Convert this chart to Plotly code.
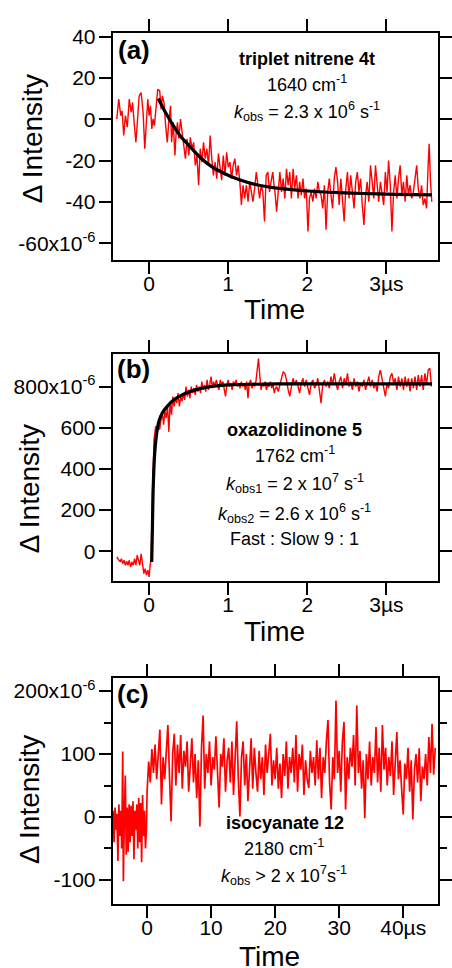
import plotly.graph_objects as go

# ---------------- data (intensities in units of 1e-6) ----------------
# Panel (a): triplet nitrene 4t, 1640 cm-1
time_a_early = [-0.409, -0.384, -0.359, -0.342, -0.321, -0.300, -0.276, -0.251, -0.226, -0.209,
                -0.188, -0.167, -0.146, -0.126, -0.101, -0.076, -0.055, -0.034, -0.017, 0.000,
                0.017, 0.034, 0.050, 0.067, 0.084, 0.109, 0.134, 0.151, 0.167, 0.188,
                0.209, 0.230, 0.251, 0.271, 0.284, 0.305, 0.326, 0.342, 0.359, 0.376,
                0.397, 0.417, 0.438, 0.459, 0.480, 0.501, 0.521, 0.542, 0.563, 0.584,
                0.605, 0.626, 0.646, 0.667, 0.688, 0.709, 0.730, 0.751, 0.772, 0.792,
                0.813, 0.834, 0.855, 0.876, 0.897, 0.917, 0.938, 0.959, 0.980, 1.001,
                1.022, 1.042, 1.063, 1.084, 1.105, 1.126, 1.147, 1.167, 1.188, 1.209,
                1.230, 1.251, 1.272, 1.292, 1.313, 1.334, 1.355, 1.376, 1.397, 1.417,
                1.438, 1.459, 1.480, 1.501, 1.522, 1.542, 1.563, 1.584]
signal_a_early = [0.2, 9.8, 1.8, 4.2, -7.8, 1.8, -3.8, 9.8, 3.4, 8.2,
                  -2.2, -11.1, 0.2, 11.4, 13.0, 3.4, -14.2, 1.8, 9.8, 1.8,
                  6.6, -4.6, 0.2, -3.0, 3.4, 14.6, 13.8, 5.0, 11.4, 8.2,
                  -3.0, -11.1, 0.2, 6.6, -11.1, -1.4, -17.5, -6.2, -1.4, -9.4,
                  0.2, -7.8, -12.6, -19.0, -9.4, -17.5, -8.7, -14.2, -11.1, -22.3,
                  -17.5, -31.9, -14.2, -20.7, -11.1, -19.0, -14.2, -22.3, -7.8, -19.0,
                  -27.1, -20.7, -28.7, -16.6, -22.3, -29.5, -17.5, -27.1, -15.9, -23.1,
                  -20.7, -28.7, -22.3, -19.0, -27.1, -22.3, -30.3, -41.5, -31.9, -38.3,
                  -31.9, -39.9, -30.3, -35.1, -39.9, -33.5, -25.5, -31.9, -38.3, -31.9,
                  -35.1, -49.5, -27.1, -25.5, -35.1, -30.3, -25.5, -33.5]
time_a_late = [1.591, 1.612, 1.633, 1.653, 1.674, 1.695, 1.716, 1.737, 1.758, 1.778,
               1.799, 1.820, 1.841, 1.862, 1.883, 1.903, 1.924, 1.945, 1.966, 1.987,
               2.008, 2.028, 2.049, 2.070, 2.091, 2.112, 2.133, 2.153, 2.174, 2.195,
               2.216, 2.237, 2.258, 2.278, 2.299, 2.320, 2.341, 2.362, 2.383, 2.403,
               2.424, 2.445, 2.466, 2.487, 2.508, 2.528, 2.549, 2.570, 2.591, 2.612,
               2.633, 2.653, 2.674, 2.695, 2.716, 2.737, 2.758, 2.778, 2.799, 2.820,
               2.841, 2.862, 2.883, 2.903, 2.924, 2.945, 2.966, 2.987, 3.008, 3.028,
               3.049, 3.070, 3.091, 3.112, 3.133, 3.153, 3.174, 3.195, 3.216, 3.237,
               3.258, 3.278, 3.299, 3.320, 3.341, 3.362, 3.383, 3.403, 3.424, 3.445,
               3.466, 3.487, 3.508, 3.528, 3.541, 3.558, 3.574]
signal_a_late = [-35.1, -44.7, -31.9, -25.5, -35.1, -28.7, -38.3, -23.9, -31.9, -25.5,
                 -38.3, -23.9, -33.5, -27.1, -38.3, -30.3, -36.7, -28.7, -38.3, -33.5,
                 -54.3, -38.3, -35.1, -39.9, -33.5, -38.3, -30.3, -35.1, -36.7, -43.1,
                 -31.9, -53.5, -35.1, -28.7, -36.7, -43.1, -28.7, -23.1, -30.3, -41.5,
                 -28.7, -38.3, -49.5, -33.5, -25.5, -38.3, -27.1, -35.1, -43.1, -30.3,
                 -25.5, -35.1, -28.7, -41.5, -51.1, -36.7, -30.3, -39.9, -22.3, -30.3,
                 -38.3, -22.3, -31.9, -39.9, -30.3, -35.1, -41.5, -25.5, -35.1, -19.9,
                 -31.9, -54.3, -35.1, -27.1, -38.3, -28.7, -22.3, -36.7, -30.3, -39.9,
                 -27.1, -36.7, -31.9, -38.3, -35.1, -28.7, -22.3, -33.5, -38.3, -31.9,
                 -41.5, -38.3, -43.1, -22.3, -11.8, -30.3, -39.9]
fit_time_a = [0.116, 0.2, 0.29, 0.4, 0.541, 0.65, 0.791, 0.95, 1.125, 1.3, 1.458, 1.616,
              2.0, 2.4, 2.7, 3.1, 3.575]
fit_a = [10.1, 3.8, -2.0, -8.3, -14.2, -18.6, -22.9, -26.2, -29.0, -31.1, -32.4, -33.3,
         -34.7, -35.5, -35.9, -36.3, -36.6]

# Panel (b): oxazolidinone 5, 1762 cm-1
time_b_early = [-0.409, -0.384, -0.367, -0.351, -0.334, -0.317, -0.300, -0.284, -0.267, -0.251,
                -0.234, -0.217, -0.200, -0.184, -0.167, -0.151, -0.134, -0.117, -0.101, -0.084,
                -0.067, -0.051, -0.034, -0.017, 0.000, 0.013, 0.025, 0.042, 0.062, 0.083,
                0.100, 0.117, 0.133, 0.150, 0.167, 0.183, 0.200, 0.216, 0.233, 0.250,
                0.266, 0.283, 0.300, 0.316, 0.333, 0.350, 0.366, 0.383, 0.400, 0.417,
                0.433, 0.450, 0.466, 0.483, 0.500, 0.516, 0.533, 0.550, 0.566, 0.583,
                0.600, 0.616, 0.633, 0.650, 0.666, 0.683, 0.700, 0.716, 0.733, 0.750,
                0.766, 0.783, 0.800, 0.816, 0.833, 0.850, 0.866, 0.883, 0.900, 0.916,
                0.933, 0.950, 0.966, 0.983, 1.000, 1.016, 1.033, 1.050, 1.066, 1.083,
                1.100, 1.116, 1.133, 1.150, 1.166, 1.183, 1.200, 1.216, 1.233, 1.250,
                1.266, 1.283, 1.300, 1.316, 1.333, 1.350, 1.366, 1.383, 1.400, 1.416,
                1.433, 1.450, 1.466, 1.483, 1.500, 1.516, 1.533, 1.550, 1.566, 1.583]
signal_b_early = [-27.5, -43.4, -51.6, -35.7, -59.8, -43.4, -67.5, -48.2, -67.5, -43.4,
                  -75.7, -51.6, -67.5, -35.7, -67.5, -19.3, -43.4, -67.5, -11.6, -67.5,
                  -107.9, -83.8, -115.7, -91.6, -123.8, -67.5, -35.7, 285.8, 542.6, 607.2,
                  583.1, 623.1, 591.1, 639.2, 671.3, 615.1, 679.4, 647.2, 703.6, 580.0,
                  727.7, 663.2, 751.6, 703.6, 743.6, 719.5, 767.7, 703.6, 751.6, 727.7,
                  767.7, 735.4, 799.8, 751.6, 783.6, 743.6, 799.8, 767.7, 791.7, 759.5,
                  807.7, 775.6, 799.8, 767.7, 823.9, 783.6, 807.7, 775.6, 831.9, 783.6,
                  807.7, 848.0, 791.7, 823.9, 799.8, 831.9, 807.7, 783.6, 831.9, 807.7,
                  823.9, 791.7, 751.6, 807.7, 831.9, 799.8, 815.7, 783.6, 823.9, 807.7,
                  831.9, 799.8, 815.7, 791.7, 823.9, 799.8, 815.7, 783.6, 823.9, 743.6,
                  815.7, 831.9, 791.7, 815.7, 799.8, 823.9, 896.3, 936.3, 848.0, 783.6,
                  815.7, 799.8, 823.9, 783.6, 807.7, 799.8, 823.9, 791.7, 815.7, 767.7]
time_b_late = [1.591, 1.612, 1.633, 1.653, 1.674, 1.695, 1.716, 1.737, 1.758, 1.778,
               1.799, 1.820, 1.841, 1.862, 1.883, 1.903, 1.924, 1.945, 1.966, 1.987,
               2.008, 2.028, 2.049, 2.070, 2.091, 2.112, 2.133, 2.153, 2.174, 2.195,
               2.216, 2.237, 2.258, 2.278, 2.299, 2.320, 2.341, 2.362, 2.383, 2.403,
               2.424, 2.445, 2.466, 2.487, 2.508, 2.528, 2.549, 2.570, 2.591, 2.612,
               2.633, 2.653, 2.674, 2.695, 2.716, 2.737, 2.758, 2.778, 2.799, 2.820,
               2.841, 2.862, 2.883, 2.903, 2.924, 2.945, 2.966, 2.987, 3.008, 3.028,
               3.049, 3.070, 3.091, 3.112, 3.133, 3.153, 3.174, 3.195, 3.216, 3.237,
               3.258, 3.278, 3.299, 3.320, 3.341, 3.362, 3.383, 3.403, 3.424, 3.445,
               3.466, 3.487, 3.508, 3.528, 3.549, 3.570]
signal_b_late = [783.6, 799.9, 775.9, 807.7, 848.1, 872.2, 864.0, 831.9, 783.6, 751.8,
                 799.9, 840.0, 807.7, 831.9, 799.9, 767.7, 815.9, 840.0, 799.9, 831.9,
                 791.8, 759.5, 815.9, 831.9, 791.8, 807.7, 840.0, 783.6, 719.5, 807.7,
                 831.9, 799.9, 824.0, 791.8, 848.1, 807.7, 864.0, 815.9, 783.6, 824.0,
                 848.1, 791.8, 840.0, 807.7, 864.0, 799.9, 824.0, 783.6, 840.0, 799.9,
                 824.0, 775.9, 815.9, 799.9, 831.9, 783.6, 815.9, 848.1, 799.9, 831.9,
                 791.8, 815.9, 775.9, 848.1, 880.1, 831.9, 783.6, 751.8, 815.9, 791.8,
                 848.1, 864.0, 815.9, 840.0, 783.6, 848.1, 799.9, 840.0, 783.6, 848.1,
                 799.9, 840.0, 775.9, 840.0, 791.8, 848.1, 783.6, 855.9, 799.9, 855.9,
                 783.6, 864.0, 807.7, 880.1, 888.2, 799.9]
fit_time_b = [0.033, 0.042, 0.050, 0.060, 0.071, 0.084, 0.096, 0.124, 0.166, 0.229, 0.312,
              0.417, 0.583, 0.792, 1.0, 1.291, 1.616, 2.2, 3.575]
fit_b = [-51.6, 120.0, 285.8, 400.0, 478.5, 535.0, 574.9, 631.3, 671.3, 703.6, 735.4,
         759.5, 783.6, 800.0, 807.7, 811.0, 812.5, 813.0, 813.0]

# Panel (c): isocyanate 12, 2180 cm-1
time_c_pre = [-5.30, -5.15, -5.00, -4.85, -4.70, -4.55, -4.40, -4.25, -4.10, -3.95,
              -3.80, -3.70, -3.55, -3.40, -3.25, -3.10, -2.95, -2.80, -2.65, -2.50,
              -2.35, -2.20, -2.05, -1.90, -1.75, -1.60, -1.45, -1.30, -1.15, -1.00,
              -0.85, -0.70, -0.55, -0.40, -0.25, -0.10]
signal_c_pre = [10, -40, 15, -20, 5, -70, 20, -30, 10, -50,
                104, -102, 0, 66, -60, 15, -55, 20, -40, 18,
                -30, 25, -67, 10, -20, 20, -50, 30, -40, 22,
                -72, 35, -30, 10, -50, -20]
time_c_post = [0.0, 0.25, 0.5, 0.75, 1.0, 1.25, 1.5, 1.75, 2.0, 2.25, 2.5, 2.75,
               3.0, 3.25, 3.5, 3.75, 4.0, 4.25, 4.5, 4.75, 5.0, 5.25, 5.5, 5.75,
               6.0, 6.25, 6.5, 6.75, 7.0, 7.25, 7.5, 7.75, 8.0, 8.25, 8.5, 8.75,
               9.0, 9.25, 9.5, 9.75, 10.0, 10.25, 10.5, 10.75, 11.0, 11.25, 11.5, 11.75,
               12.0, 12.25, 12.5, 12.75, 13.0, 13.25, 13.5, 13.75, 14.0, 14.25, 14.5, 14.75,
               15.0, 15.25, 15.5, 15.75, 16.0, 16.25, 16.5, 16.75, 17.0, 17.25, 17.5, 17.75,
               18.0, 18.25, 18.5, 18.75, 19.0, 19.25, 19.5, 19.75, 20.0, 20.25, 20.5, 20.75,
               21.0, 21.25, 21.5, 21.75, 22.0, 22.25, 22.5, 22.75, 23.0, 23.25, 23.5, 23.75,
               24.0, 24.25, 24.5, 24.75, 25.0, 25.25, 25.5, 25.75, 26.0, 26.25, 26.5, 26.75,
               27.0, 27.25, 27.5, 27.75, 28.0, 28.25, 28.5, 28.75, 29.0, 29.25, 29.5, 29.75,
               30.0, 30.25, 30.5, 30.75, 31.0, 31.25, 31.5, 31.75, 32.0, 32.25, 32.5, 32.75,
               33.0, 33.25, 33.5, 33.75, 34.0, 34.25, 34.5, 34.75, 35.0, 35.25, 35.5, 35.75,
               36.0, 36.25, 36.5, 36.75, 37.0, 37.25, 37.5, 37.75, 38.0, 38.25, 38.5, 38.75,
               39.0, 39.25, 39.5, 39.75, 40.0, 40.25, 40.5, 40.75, 41.0, 41.25, 41.5, 41.75,
               42.0, 42.25, 42.5, 42.75, 43.0, 43.25, 43.5, 43.75, 44.0, 44.25, 44.5, 44.75,
               45.0]
signal_c_post = [40, 88, 55, 108, 70, 115, 60, 100, 139, 20, 95, 60,
                 110, 146, 65, -7, 100, 132, 50, 115, 70, 130, 45, 105,
                 80, 120, 40, 95, 125, 55, 100, 30, 90, -15, 110, 161,
                 45, 100, 70, 120, 50, 95, 75, 128, 60, 15, 100, 80,
                 125, 40, 90, 110, 55, 120, 35, 100, 152, 60, 1, 95,
                 120, 50, 100, 25, 90, 125, 45, 110, 70, 40, 105, 60,
                 95, 35, 115, 70, 100, 132, 50, 90, 60, 110, 45, 85,
                 30, 100, 65, 120, 45, 95, 70, 110, 55, 130, 40, 100,
                 75, 115, 35, 90, 60, 46, 105, 70, 95, 50, 122, 60,
                 110, 30, 95, 70, 120, 154, 55, 12, 95, 60, 185, 70,
                 105, 40, 120, 151, 12, 95, 60, 110, 80, 130, 50, 177,
                 70, 105, 45, 90, -2, 100, 60, 120, 50, 95, 70, 143,
                 55, 110, 40, 146, 75, 110, 50, 95, 65, 120, 35, 100,
                 135, 60, 90, 45, 4, 85, 60, 110, 40, 90, -4, 75,
                 100, 55, 109, 25, 80, 60, 100, 50, 127, 70, 148, 67,
                 110]

# tick definitions
xtick_vals_ab = [0, 1, 2, 3]
xtick_text_ab = ["0", "1", "2", "3µs"]
xtick_vals_c = [0, 10, 20, 30, 40]
xtick_text_c = ["0", "10", "20", "30", "40µs"]
ytick_vals_a = [-60, -40, -20, 0, 20, 40]
ytick_text_a = ["-60x10<sup>-6</sup>", "-40", "-20", "0", "20", "40"]
ytick_vals_b = [0, 200, 400, 600, 800]
ytick_text_b = ["0", "200", "400", "600", "800x10<sup>-6</sup>"]
ytick_vals_c = [-100, 0, 100, 200]
ytick_text_c = ["-100", "0", "100", "200x10<sup>-6</sup>"]
yminor_vals_c = [-50, 50, 150]

# ---------------- figure ----------------
W, H = 452, 968
RED = "#ff0000"
FONT = "Liberation Sans, Arial, sans-serif"

fig = go.Figure()
red_line = dict(color=RED, width=1.4)
red_line_c = dict(color=RED, width=1.7)
fit_line = dict(color="black", width=3.2, shape="spline", smoothing=0.6)

fig.add_trace(go.Scatter(x=time_a_early + time_a_late, y=signal_a_early + signal_a_late,
                         mode="lines", line=red_line, xaxis="x", yaxis="y", showlegend=False))
fig.add_trace(go.Scatter(x=fit_time_a, y=fit_a, mode="lines", line=fit_line,
                         xaxis="x", yaxis="y", showlegend=False))
fig.add_trace(go.Scatter(x=time_b_early + time_b_late, y=signal_b_early + signal_b_late,
                         mode="lines", line=red_line, xaxis="x2", yaxis="y2", showlegend=False))
fig.add_trace(go.Scatter(x=fit_time_b, y=fit_b, mode="lines", line=fit_line,
                         xaxis="x2", yaxis="y2", showlegend=False))
fig.add_trace(go.Scatter(x=time_c_pre + time_c_post, y=signal_c_pre + signal_c_post,
                         mode="lines", line=red_line_c, xaxis="x3", yaxis="y3", showlegend=False))

xdom = [114 / W, 442.7 / W]
doms = {
    "a": [1 - 255 / H, 1 - 25.7 / H],
    "b": [1 - 578.3 / H, 1 - 349.3 / H],
    "c": [1 - 903.3 / H, 1 - 675.7 / H],
}

def axis(**kw):
    base = dict(showline=True, linecolor="black", linewidth=2, mirror="ticks",
                ticks="outside", ticklen=12, tickwidth=1.6, tickcolor="black",
                showgrid=False, zeroline=False, tickmode="array",
                tickfont=dict(family=FONT, size=21, color="black"))
    base.update(kw)
    return base

fig.update_layout(
    width=W, height=H, margin=dict(l=0, r=0, t=0, b=0),
    paper_bgcolor="white", plot_bgcolor="white", showlegend=False,
    xaxis=axis(domain=xdom, anchor="y", range=[-0.46, 3.65], ticklabelstandoff=-8,
               tickvals=xtick_vals_ab, ticktext=xtick_text_ab),
    yaxis=axis(domain=doms["a"], anchor="x", range=[-68.2, 42.1], ticklabelstandoff=-1,
               tickvals=ytick_vals_a, ticktext=ytick_text_a),
    xaxis2=axis(domain=xdom, anchor="y2", range=[-0.46, 3.65], ticklabelstandoff=-8,
                tickvals=xtick_vals_ab, ticktext=xtick_text_ab),
    yaxis2=axis(domain=doms["b"], anchor="x2", range=[-144.6, 959], ticklabelstandoff=-1,
                tickvals=ytick_vals_b, ticktext=ytick_text_b),
    xaxis3=axis(domain=xdom, anchor="y3", range=[-5.36, 45.4], ticklabelstandoff=-8,
                tickvals=xtick_vals_c, ticktext=xtick_text_c),
    yaxis3=axis(domain=doms["c"], anchor="x3", range=[-137.8, 221], ticklabelstandoff=-1,
                tickvals=ytick_vals_c, ticktext=ytick_text_c,
                minor=dict(tickvals=yminor_vals_c, ticks="outside", ticklen=7,
                           tickwidth=1.6, tickcolor="black", showgrid=False)),
)

def ann(text, px, py, size=18, angle=0, bold=False):
    if bold:
        text = "<b>" + text + "</b>"
    fig.add_annotation(text=text, x=px / W, y=1 - py / H, xref="paper", yref="paper",
                       xanchor="center", yanchor="middle", showarrow=False,
                       textangle=angle, font=dict(family=FONT, size=size, color="black"))

# axis titles
for (px, py) in [(278, 305), (278, 629), (273, 956)]:
    ann("Time", px, py, size=28)
for (px, py) in [(33, 132.5), (30, 485), (30, 798)]:
    ann("Δ Intensity", px, py, size=28, angle=-90)

# panel labels
ann("(a)", 135, 43, size=26, bold=True)
ann("(b)", 135, 365, size=26, bold=True)
ann("(c)", 134, 692, size=26, bold=True)

# panel (a) text
ann("triplet nitrene 4t", 310, 52, bold=True)
ann("1640 cm<sup>-1</sup>", 310, 77)
ann("<i>k</i><sub>obs</sub> = 2.3 x 10<sup>6</sup> s<sup>-1</sup>", 310, 105)

# panel (b) text
ann("oxazolidinone 5", 298, 425.7, bold=True)
ann("1762 cm<sup>-1</sup>", 298, 451)
ann("<i>k</i><sub>obs1</sub> = 2 x 10<sup>7</sup> s<sup>-1</sup>", 298, 480)
ann("<i>k</i><sub>obs2</sub> = 2.6 x 10<sup>6</sup> s<sup>-1</sup>", 298, 510)
ann("Fast : Slow 9 : 1", 298, 535.7)

# panel (c) text
ann("isocyanate 12", 288, 822.3, bold=True)
ann("2180 cm<sup>-1</sup>", 287, 847)
ann("<i>k</i><sub>obs</sub> &gt; 2 x 10<sup>7</sup>s<sup>-1</sup>", 287, 875)

fig.write_html("out.html")
